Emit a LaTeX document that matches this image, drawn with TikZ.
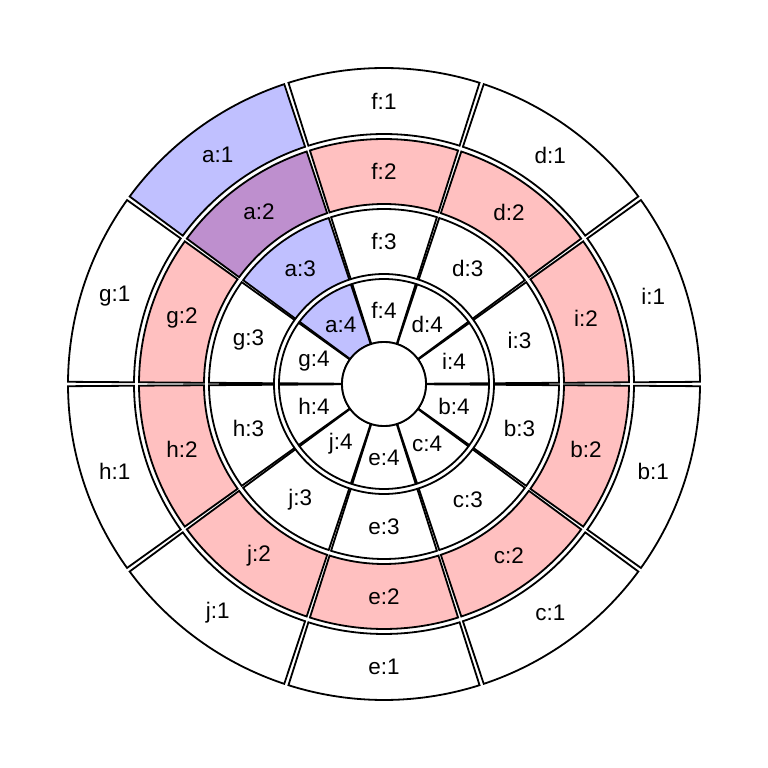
\documentclass[tikz,border=0pt]{standalone}
\usepackage{fontspec}
\setmainfont{Liberation Sans}
\definecolor{sblue}{RGB}{192,192,255}
\definecolor{spink}{RGB}{255,192,192}
\definecolor{spurple}{RGB}{190,143,206}
\begin{document}
\begin{tikzpicture}[x=1pt,y=1pt,
  sector/.style={draw=black, line width=1.8pt, line join=miter},
  lab/.style={font=\fontsize{22.5}{22.5}\selectfont, inner sep=0pt}]
\useasboundingbox (-384,-384) rectangle (384,384);
\def\gp{0.4}
\def\letA{a}
\foreach \ring/\ri/\ro in {1/250/316, 2/180/245, 3/110/175, 4/42/105} {
  \foreach \nm [count=\k from 0] in {i,d,f,a,g,h,j,e,c,b} {
    \pgfmathsetmacro\sta{\k*36+\gp}
    \pgfmathsetmacro\ea{\k*36+36-\gp}
    \pgfmathsetmacro\ma{\k*36+18}
    \pgfmathsetmacro\mr{(\ri+\ro)/2}
    \edef\cur{\nm}
    \ifx\cur\letA
      \ifnum\ring=2 \def\fc{spurple}\else\def\fc{sblue}\fi
    \else
      \ifnum\ring=2 \def\fc{spink}\else\def\fc{white}\fi
    \fi
    \draw[sector, fill=\fc] (\sta:\ri pt) -- (\sta:\ro pt)
      arc[start angle=\sta, end angle=\ea, radius=\ro pt] -- (\ea:\ri pt)
      arc[start angle=\ea, end angle=\sta, radius=\ri pt] -- cycle;
    \node[lab] (\nm\ring) at (\ma:\mr pt) {\nm:\ring};
  }
}
\node[circle, draw=black, line width=1.8pt, fill=white, minimum size=84pt, inner sep=0pt] (hole) at (0,0) {};
\end{tikzpicture}
\end{document}
